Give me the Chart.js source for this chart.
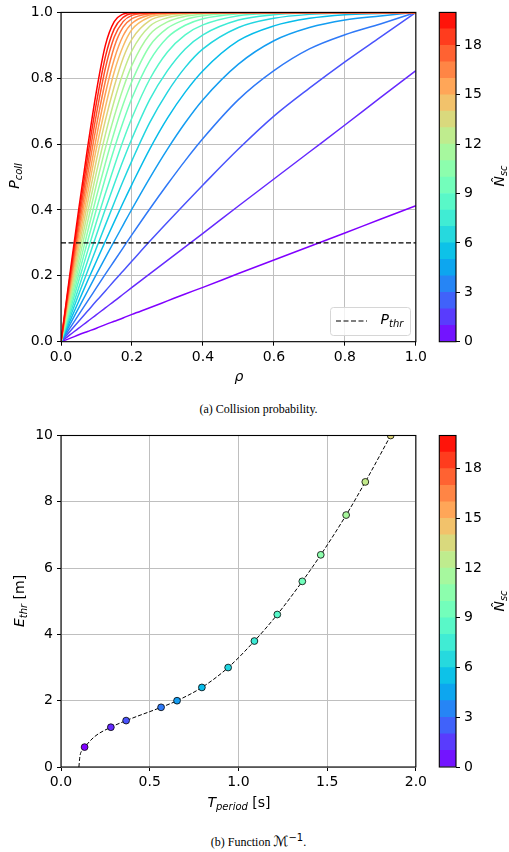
<!DOCTYPE html>
<html>
<head>
<meta charset="utf-8">
<script src="https://cdn.jsdelivr.net/npm/chart.js@4.4.1/dist/chart.umd.min.js"></script>
<style>
  html, body { margin: 0; padding: 0; background: #fff; }
  body { width: 509px; height: 852px; position: relative; overflow: hidden; }
  canvas { position: absolute; }
  .cap { position: absolute; left: 0; width: 517px; text-align: center; color: #000;
         font-family: 'Liberation Serif', 'DejaVu Serif', serif; font-size: 12px; }
  .cap .m { font-family: 'DejaVu Sans', sans-serif; font-size: 14px; }
  .cap sup { font-family: 'DejaVu Sans', sans-serif; font-size: 10px; }
</style>
</head>
<body>
<canvas id="collChart" width="430" height="395" style="left:0;top:0"></canvas>
<canvas id="collBar" width="79" height="360" style="left:430px;top:0"></canvas>
<div class="cap" style="top:402px">(a) Collision probability.</div>
<canvas id="thrChart" width="430" height="395" style="left:0;top:420px"></canvas>
<canvas id="thrBar" width="79" height="360" style="left:430px;top:420px"></canvas>
<div class="cap" style="top:832px">(b) Function <span class="m">ℳ</span><sup>−1</sup>.</div>
<script>
// ---- collision probability curves ----
const rho = [0, 0.025, 0.05, 0.075, 0.1, 0.125, 0.15, 0.175, 0.2, 0.25, 0.3, 0.35, 0.4, 0.5, 0.6, 0.7, 0.8, 0.9, 1.0];
const nSc = [1, 2, 3, 4, 5, 6, 7, 8, 9, 10, 11, 12, 13, 14, 15, 16, 17, 18, 19, 20];
// one row per N_sc, sampled at rho
const pColl = [
  [0, .010, .021, .031, .041, .052, .062, .072, .083, .103, .124, .145, .165, .207, .248, .289, .330, .372, .413],
  [0, .021, .041, .062, .082, .103, .123, .144, .165, .206, .247, .288, .329, .412, .494, .576, .658, .741, .823],
  [0, .031, .062, .093, .124, .154, .185, .215, .245, .305, .363, .420, .476, .585, .685, .770, .850, .925, 1],
  [0, .041, .082, .123, .164, .205, .245, .285, .325, .403, .478, .550, .617, .735, .823, .889, .932, .965, 1],
  [0, .052, .103, .154, .205, .255, .305, .354, .403, .497, .585, .665, .735, .843, .914, .954, .977, .989, 1],
  [0, .062, .123, .185, .245, .305, .364, .422, .478, .585, .679, .758, .823, .914, .959, .982, .993, .997, 1],
  [0, .072, .144, .215, .285, .354, .422, .488, .550, .665, .758, .833, .889, .954, .982, .994, .998, 1, 1],
  [0, .082, .164, .245, .325, .403, .478, .550, .617, .735, .823, .889, .932, .977, .993, .998, 1, 1, 1],
  [0, .093, .185, .275, .364, .450, .532, .610, .680, .797, .880, .932, .962, .990, .997, 1, 1, 1, 1],
  [0, .103, .205, .305, .403, .497, .586, .667, .740, .853, .924, .961, .981, .996, 1, 1, 1, 1, 1],
  [0, .113, .225, .334, .441, .542, .636, .720, .791, .898, .952, .978, .990, .998, 1, 1, 1, 1, 1],
  [0, .123, .245, .364, .478, .587, .684, .769, .840, .933, .971, .988, .995, 1, 1, 1, 1, 1, 1],
  [0, .134, .265, .393, .515, .629, .731, .817, .884, .958, .984, .994, .998, 1, 1, 1, 1, 1, 1],
  [0, .144, .285, .422, .552, .672, .775, .861, .919, .975, .991, .997, .999, 1, 1, 1, 1, 1, 1],
  [0, .154, .305, .450, .588, .712, .819, .897, .948, .986, .995, .999, 1, 1, 1, 1, 1, 1, 1],
  [0, .164, .325, .478, .622, .753, .858, .929, .967, .992, .998, .999, 1, 1, 1, 1, 1, 1, 1],
  [0, .174, .344, .506, .657, .791, .895, .955, .981, .996, .999, 1, 1, 1, 1, 1, 1, 1, 1],
  [0, .185, .364, .534, .692, .830, .925, .972, .991, .998, .999, 1, 1, 1, 1, 1, 1, 1, 1],
  [0, .195, .383, .562, .726, .865, .950, .985, .997, .999, 1, 1, 1, 1, 1, 1, 1, 1, 1],
  [0, .205, .403, .590, .762, .900, .972, .995, 1, 1, 1, 1, 1, 1, 1, 1, 1, 1, 1]
];
const pThr = 0.3;
const rhoTicks = [0, 0.2, 0.4, 0.6, 0.8, 1.0];
const pTicks = [0, 0.2, 0.4, 0.6, 0.8, 1.0];

// ---- inverse function M^-1 ----
const tMarker = [0.133, 0.281, 0.367, 0.564, 0.654, 0.794, 0.942, 1.090, 1.219, 1.360, 1.464, 1.607, 1.715, 1.858];
const eMarker = [0.6, 1.2, 1.4, 1.8, 2.0, 2.4, 3.0, 3.8, 4.6, 5.6, 6.4, 7.6, 8.6, 10];
const nMarker = [1, 2, 3, 4, 5, 6, 7, 8, 9, 10, 11, 12, 13, 14];
const tCurve = [0.101, 0.106, 0.118, 0.133, 0.19, 0.281, 0.367, 0.564, 0.654, 0.794, 0.942, 1.090, 1.219, 1.360, 1.464, 1.607, 1.715, 1.858];
const eCurve = [0, 0.3, 0.5, 0.6, 0.92, 1.2, 1.4, 1.8, 2.0, 2.4, 3.0, 3.8, 4.6, 5.6, 6.4, 7.6, 8.6, 10];
const tTicks = [0, 0.5, 1.0, 1.5, 2.0];
const eTicks = [0, 2, 4, 6, 8, 10];

// ---- colour bar ----
const cbBounds = [0, 1, 2, 3, 4, 5, 6, 7, 8, 9, 10, 11, 12, 13, 14, 15, 16, 17, 18, 19, 20];
const cbTicks = [0, 3, 6, 9, 12, 15, 18];

Chart.defaults.font.family = "'DejaVu Sans', sans-serif";
Chart.defaults.font.size = 14;
Chart.defaults.color = '#000';
Chart.defaults.animation = false;

const GRID = '#bfbfbf';
const IT = 'italic 14px "DejaVu Sans"';
const SUB = 'italic 10px "DejaVu Sans"';
const RM = '14px "DejaVu Sans"';

// matplotlib 'rainbow' colormap
function rainbow(t) {
  const r = Math.min(1, Math.abs(2 * t - 0.5));
  const g = Math.sin(Math.PI * t);
  const b = Math.cos(Math.PI * t / 2);
  return `rgb(${Math.round(r * 255)},${Math.round(g * 255)},${Math.round(b * 255)})`;
}
const nColor = n => rainbow((n - 1) / 19);

// text with a subscript, optionally rotated to read upwards
function mathText(ctx, x, y, parts, rotate) {
  ctx.save();
  ctx.translate(x, y);
  if (rotate) ctx.rotate(-Math.PI / 2);
  let w = 0;
  parts.forEach(p => { ctx.font = p.font; p.w = ctx.measureText(p.t).width; w += p.w; });
  let cx = -w / 2;
  ctx.fillStyle = '#000';
  ctx.textBaseline = 'middle';
  parts.forEach(p => { ctx.font = p.font; ctx.fillText(p.t, cx, p.dy || 0); cx += p.w; });
  ctx.restore();
}

const frame = {
  id: 'frame',
  afterDatasetsDraw(chart) {
    const a = chart.chartArea, c = chart.ctx;
    c.save();
    c.strokeStyle = '#000';
    c.lineWidth = 1.1;
    c.strokeRect(a.left, a.top, a.right - a.left, a.bottom - a.top);
    c.restore();
  }
};

function labels(items) {
  return { id: 'labels', afterDraw(chart) { items.forEach(it => mathText(chart.ctx, it.x, it.y, it.parts, it.rot)); } };
}

function axis(min, max, ticks, fmt, size, isY) {
  return {
    type: 'linear', min, max,
    afterBuildTicks: s => { s.ticks = ticks.map(v => ({ value: v })); },
    afterFit: s => { if (isY) s.width = size; else s.height = size; },
    ticks: { callback: fmt, padding: isY ? 4 : 3, maxRotation: 0, autoSkip: false },
    grid: { color: GRID, lineWidth: 1, tickColor: '#000', tickLength: 4 },
    border: { display: false }
  };
}

// collision probability panel
const collSets = nSc.map((n, i) => ({
  data: rho.map((r, j) => ({ x: r, y: pColl[i][j] })),
  borderColor: nColor(n),
  borderWidth: 1.5,
  pointRadius: 0,
  cubicInterpolationMode: 'monotone',
  order: 21 - n
}));
collSets.push({
  data: [{ x: 0, y: pThr }, { x: 1, y: pThr }],
  borderColor: '#000', borderWidth: 1.1, borderDash: [5, 2.5], pointRadius: 0, order: 0
});

const legendBox = {
  id: 'legendBox',
  afterDraw(chart) {
    const c = chart.ctx;
    c.save();
    c.beginPath();
    c.roundRect(330.5, 307.5, 80, 28, 3);
    c.fillStyle = 'rgba(255,255,255,0.8)';
    c.fill();
    c.strokeStyle = '#d6d6d6';
    c.lineWidth = 1;
    c.stroke();
    c.beginPath();
    c.setLineDash([5, 2.5]);
    c.strokeStyle = '#000';
    c.lineWidth = 1.1;
    c.moveTo(336, 321);
    c.lineTo(367, 321);
    c.stroke();
    c.restore();
    mathText(c, 392, 320, [{ t: 'P', font: IT }, { t: 'thr', font: SUB, dy: 4 }]);
  }
};

new Chart(document.getElementById('collChart'), {
  type: 'line',
  data: { datasets: collSets },
  options: {
    responsive: false,
    layout: { padding: { left: 0, right: 13, top: 10.7, bottom: 13.3 } },
    plugins: { legend: { display: false }, tooltip: { enabled: false } },
    scales: {
      x: axis(0, 1, rhoTicks, v => v.toFixed(1), 40, false),
      y: axis(0, 1, pTicks, v => v.toFixed(1), 61, true)
    }
  },
  plugins: [frame, legendBox, labels([
    { x: 239, y: 377, parts: [{ t: 'ρ', font: IT }] },
    { x: 15, y: 176, rot: true, parts: [{ t: 'P', font: IT }, { t: 'coll', font: SUB, dy: 4 }] }
  ])]
});

// inverse function panel
new Chart(document.getElementById('thrChart'), {
  type: 'line',
  data: {
    datasets: [
      {
        type: 'scatter',
        data: tMarker.map((t, i) => ({ x: t, y: eMarker[i] })),
        pointBackgroundColor: nMarker.map(nColor),
        pointBorderColor: '#000',
        pointBorderWidth: 0.8,
        pointRadius: 3.4,
        clip: 0,
        order: 0
      },
      {
        data: tCurve.map((t, i) => ({ x: t, y: eCurve[i] })),
        borderColor: '#000', borderWidth: 1, borderDash: [4, 2],
        pointRadius: 0, cubicInterpolationMode: 'monotone', clip: 0, order: 1
      }
    ]
  },
  options: {
    responsive: false,
    layout: { padding: { left: 0, right: 13, top: 15.5, bottom: 8 } },
    plugins: { legend: { display: false }, tooltip: { enabled: false } },
    scales: {
      x: axis(0, 2, tTicks, v => v.toFixed(1), 40, false),
      y: axis(0, 10, eTicks, v => String(v), 61, true)
    }
  },
  plugins: [frame, labels([
    { x: 239, y: 383, parts: [{ t: 'T', font: IT }, { t: 'period', font: SUB, dy: 4 }, { t: ' [s]', font: RM }] },
    { x: 20, y: 181, rot: true, parts: [{ t: 'E', font: IT }, { t: 'thr', font: SUB, dy: 4 }, { t: ' [m]', font: RM }] }
  ])]
});

// discrete colour bars, one per panel
function colorBar(id, padTop, padBottom, labelY) {
  new Chart(document.getElementById(id), {
    type: 'bar',
    data: {
      labels: [''],
      datasets: cbBounds.slice(0, -1).map((lo, i) => ({
        data: [[lo, cbBounds[i + 1]]],
        backgroundColor: rainbow((i + 0.5) / (cbBounds.length - 1)),
        borderWidth: 0,
        barPercentage: 1,
        categoryPercentage: 1
      }))
    },
    options: {
      responsive: false,
      layout: { padding: { left: 9.3, right: 0, top: padTop, bottom: padBottom } },
      plugins: { legend: { display: false }, tooltip: { enabled: false } },
      scales: {
        x: { display: false, stacked: true },
        y: {
          position: 'right', min: 0, max: 20,
          afterBuildTicks: s => { s.ticks = cbTicks.map(v => ({ value: v })); },
          afterFit: s => { s.width = 53; },
          ticks: { padding: 4 },
          grid: { drawOnChartArea: false, tickColor: '#000', tickLength: 4 },
          border: { display: false }
        }
      }
    },
    plugins: [frame, labels([
      { x: 70, y: labelY, rot: true, parts: [{ t: 'N\u0302', font: IT }, { t: 'sc', font: SUB, dy: 4 }] }
    ])]
  });
}
colorBar('collBar', 10.7, 18.3, 176);
colorBar('thrBar', 15.5, 13, 181);
</script>
</body>
</html>
